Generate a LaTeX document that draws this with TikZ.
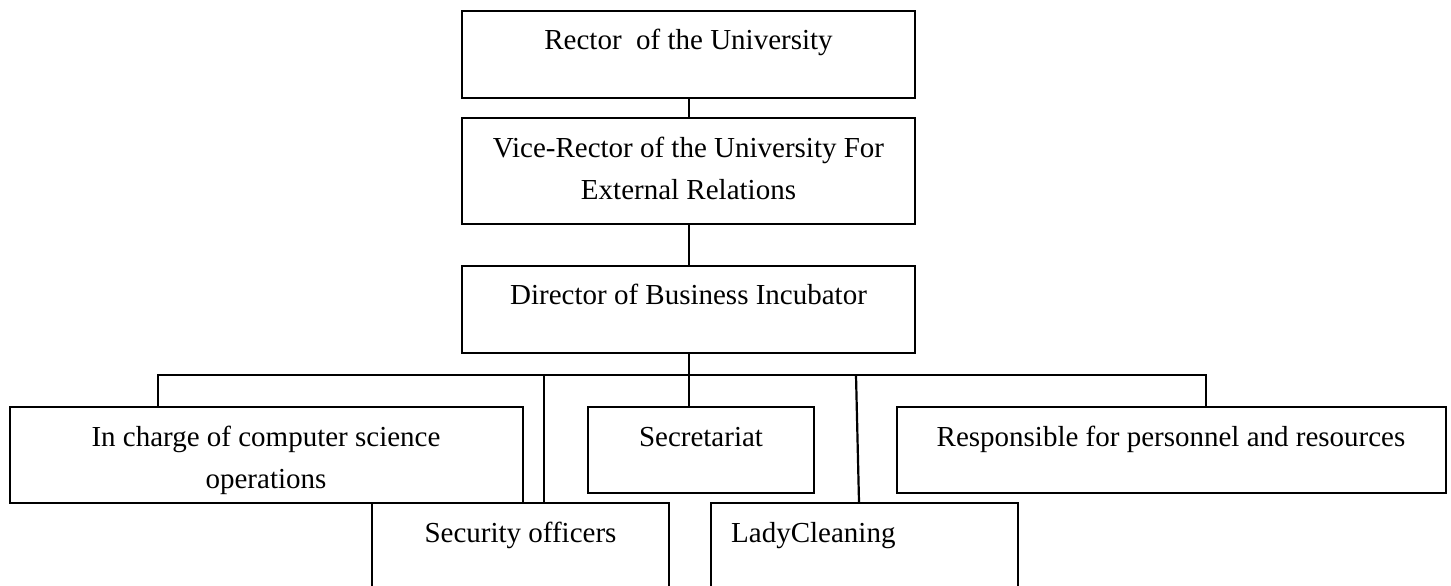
\documentclass[tikz,border=0pt]{standalone}
\usepackage{fontspec}
\setmainfont{Liberation Serif}
\begin{document}
\begin{tikzpicture}[x=1pt,y=-1pt,
  box/.style={draw, line width=2.2pt, inner sep=0pt, anchor=north west},
  txt/.style={font=\fontsize{29}{42}\selectfont, inner sep=0pt, align=center},
  conn/.style={line width=2.2pt}]
\useasboundingbox (0,0) rectangle (1451,586);
% boxes
\node[box, minimum width=453pt, minimum height=87pt]  (rector)      at (461,10)  {};
\node[box, minimum width=453pt, minimum height=106pt] (vice)        at (461,117) {};
\node[box, minimum width=453pt, minimum height=87pt]  (director)    at (461,265) {};
\node[box, minimum width=513pt, minimum height=96pt]  (incharge)    at (9,406)   {};
\node[box, minimum width=226pt, minimum height=86pt]  (secretariat) at (587,406) {};
\node[box, minimum width=549pt, minimum height=86pt]  (responsible) at (896,406) {};
\node[box, minimum width=297pt, minimum height=98pt]  (security)    at (371,502) {};
\node[box, minimum width=307pt, minimum height=98pt]  (lady)        at (710,502) {};
% texts (base anchor = baseline of the last line)
\node[txt, anchor=base] (rectorT)   at (688.5,50)  {Rector\ \ of the University};
\node[txt, anchor=base] (viceT)     at (688.5,199) {Vice-Rector of the University For\\External Relations};
\node[txt, anchor=base] (directorT) at (688.5,304) {Director of Business Incubator};
\node[txt, anchor=base] (inchargeT) at (266,488) {In charge of computer science\\operations};
\node[txt, anchor=base] (secretT)   at (701,446) {Secretariat};
\node[txt, anchor=base] (respT)     at (1171,446) {Responsible for personnel and resources};
\node[txt, anchor=base] (secT)      at (520.5,542) {Security officers};
\node[txt, anchor=base west] (ladyT) at (731,542) {LadyCleaning};
% connectors
\coordinate (busL) at (158,375);
\coordinate (busR) at (1206,375);
\coordinate (busC) at (director.south |- busL);
\coordinate (busS) at (544,375);
\coordinate (busLd) at (856,375);
\coordinate (ladyTop) at (859,502);
\draw[conn] (rector.south) -- (vice.north);
\draw[conn] (vice.south) -- (director.north);
\draw[conn] (director.south) -- (busC);
\draw[conn] (busL |- incharge.north) -- (busL) -- (busR) -- (busR |- responsible.north);
\draw[conn] (busS) -- (busS |- security.north);
\draw[conn] (busC) -- (busC |- secretariat.north);
\draw[conn] (busLd) -- (ladyTop);
\end{tikzpicture}
\end{document}
